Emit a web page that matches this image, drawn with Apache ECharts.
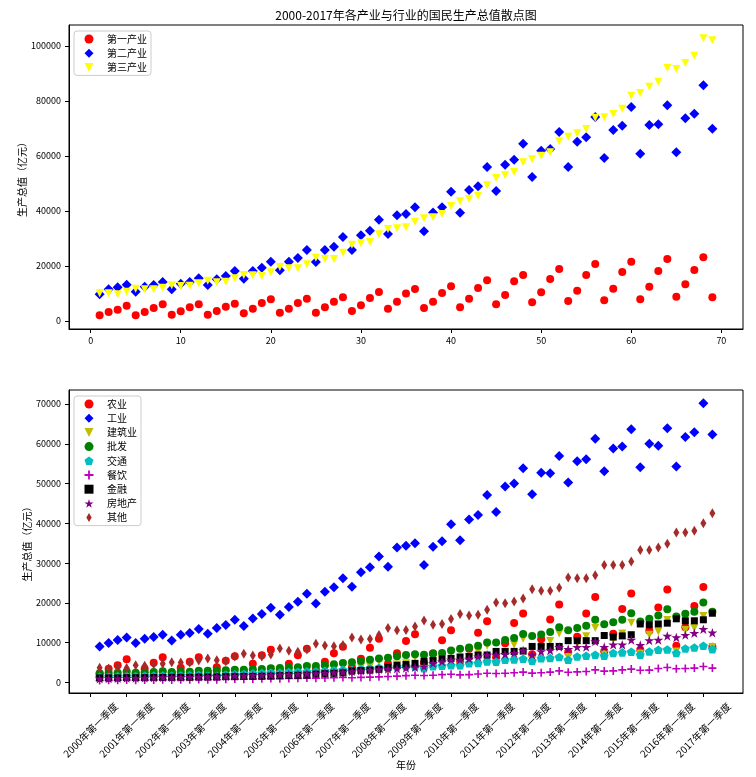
<!DOCTYPE html>
<html>
<head>
<meta charset="utf-8">
<script src="https://cdn.jsdelivr.net/npm/echarts@6/dist/echarts.min.js"></script>
<style>html,body{margin:0;padding:0;background:#fff;}#c{width:756px;height:777px;}</style>
</head>
<body>
<div id="c"></div>
<script>
// ---- data (亿元), quarters 2000Q1 .. 2017Q1, serial no. 1..69 ----
var primary = [2060,3270,4120,5580, 2060,3270,4730,6060, 2300,3520,4970,6060, 2300,3640,5210,6300, 2790,4480,6550,7880, 3030,4480,6550,8120, 3030,4970,7030,8610, 3640,5700,8360,10550, 4480,7030,10000,11640, 4730,7030,10180,12600, 4970,8120,12000,14790, 6060,9450,14420,16730, 6790,10420,15270,18910, 7270,11030,16730,20730, 7520,11760,17820,21580, 7880,12480,18180,22550, 8850,13330,18550,23150, 8610];
var secondary = [9700,11520,12240,13210, 10670,12480,13090,14180, 11520,13580,14180,15520, 13090,15150,16360,18180, 15390,18180,19390,21580, 18420,21580,22910,25820, 21450,25820,27030,30550, 25820,31150,32850,36850, 31640,38420,38910,41330, 32600,39500,41330,47030, 39390,47640,48970,56000, 47270,56850,58670,64480, 52360,61940,62550,68730, 56000,65210,66790,74180, 59270,69450,71030,77820, 60850,71270,71520,78420, 61330,73700,75390,85700, 69940];
var tertiary = [10060,10060,9700,10670, 11760,11520,11520,12120, 12970,12730,12850,13700, 14670,14060,14300,15520, 16730,16610,16360,17700, 19640,19150,19150,20610, 23030,22550,22550,24850, 27760,28240,28730,31520, 33450,33700,34120,36120, 37330,37700,38900,41820, 43520,44360,45580,49330, 52000,52970,54180,57700, 58790,60120,61330,65330, 67030,68240,69820,73940, 74060,75270,77210,81940, 82910,85210,87030,92000, 91640,93820,96480,102790, 102060];

var agriculture = [2180,3430,4310,5830, 2180,3430,4950,6320, 2430,3690,5190,6320, 2430,3820,5440,6570, 2940,4690,6830,8200, 3190,4690,6830,8450, 3190,5190,7330,8960, 3820,5950,8700,10970, 4690,7330,10400,12100, 4950,7330,10590,13090, 5190,8450,12470,15360, 6320,9830,14970,17360, 7080,10830,15850,19620, 7570,11470,17360,21500, 7830,12220,18490,22380, 8210,12970,18870,23390, 9210,13850,19250,24010, 8960];
var industry = [9050,9890,10650,11320, 9890,10980,11400,11980, 10560,11980,12400,13410, 12230,13660,14410,15750, 14160,16090,17180,18770, 17010,18940,20280,22290, 19860,22790,23960,26220, 24050,27730,28980,31660, 29070,33930,34350,35020, 29560,34090,35520,39790, 35770,40960,42130,47160, 42880,49250,50000,53850, 47320,52760,52600,56950, 50250,55610,56110,61300, 53100,58800,59300,63700, 54100,60000,59550,63900, 54270,61730,62900,70180, 62320];
var construction = [900,1400,1450,1850, 1000,1550,1600,2050, 1100,1700,1800,2300, 1250,2000,2100,2700, 1450,2350,2450,3200, 1700,2700,2850,3700, 2000,3200,3400,4400, 2400,3800,4000,5300, 2900,4500,4800,6300, 3300,5200,6200,7600, 4000,6300,7800,9200, 4900,7600,9500,11000, 5600,8600,10400,12300, 6400,9800,11600,13700, 7100,10800,12300,15000, 7300,12000,12800,15700, 7800,13200,13700,16700, 8900];
var wholesale = [2300,2350,2450,2750, 2450,2550,2600,2800, 2650,2700,2700,2950, 2950,3000,3050,3200, 3200,3300,3350,3550, 3600,3700,3800,4100, 4100,4300,4600,4900, 5100,5400,5700,6000, 6200,6600,6900,7100, 6950,7200,7380,8050, 8460,8800,9200,10050, 10050,10700,11150,12200, 11700,12060,12650,13900, 13100,13660,14250,15750, 14660,15160,15750,17400, 15330,16000,16800,18400, 16600,17250,17800,20100, 17800];
var transport = [1400,1500,1550,1600, 1550,1650,1700,1750, 1650,1750,1800,1850, 1750,1700,1950,2050, 2100,2250,2350,2450, 2400,2600,2650,2750, 2750,2950,3050,3200, 3200,3400,3550,3700, 3700,4000,4100,4000, 3600,4100,4200,4300, 4300,4860,4900,5300, 5200,5700,5750,5950, 5450,6100,6150,6370, 5700,6540,6700,6960, 6700,7380,7550,7700, 6960,7800,8200,8300, 7400,8550,8800,9200, 8380];
var catering = [500,520,560,600, 560,590,620,660, 620,660,700,740, 690,680,790,830, 810,860,910,960, 920,980,1030,1090, 1040,1100,1160,1230, 1190,1260,1330,1400, 1500,1580,1700,1800, 1750,1800,1950,2050, 1900,1950,2100,2300, 2250,2300,2450,2600, 2350,2450,2600,2900, 2550,2650,2750,3150, 2850,2900,3150,3350, 3050,3100,3500,3750, 3450,3500,3600,4000, 3600];
var finance = [1150,1150,1150,1200, 1200,1200,1250,1250, 1300,1300,1300,1350, 1400,1400,1450,1450, 1500,1500,1550,1600, 1700,1750,1800,1850, 2100,2200,2300,2400, 2900,3000,3100,3300, 3800,4300,4500,4800, 5300,5500,5900,6050, 6400,6550,6900,6900, 7800,7800,7800,7900, 9050,9050,9050,9050, 10500,10500,10500,10500, 11800,11400,11700,12000, 14700,14500,14700,14900, 16000,15500,15500,15750, 17400];
var realEstate = [950,1000,1050,1100, 1100,1150,1200,1250, 1250,1300,1350,1400, 1450,1500,1550,1650, 1700,1750,1800,1900, 1950,2000,2100,2200, 2300,2400,2500,2650, 2800,2950,3100,3300, 3400,3450,3600,3800, 4000,4850,5250,5700, 5700,5950,6500,6950, 6950,7100,7400,8050, 6950,7800,8050,8900, 8400,8900,8900,10300, 8900,9500,9500,10700, 9400,10550,10700,11700, 11300,11900,12400,13400, 12500];
var others = [3700,3500,3900,3600, 4300,4200,4600,4700, 5100,5000,5000,5500, 6000,5600,5300,6500, 7200,6800,6500,7000, 8500,7960,7700,8300, 9700,9300,9100,9400, 11300,10800,10900,11900, 13700,13100,13200,14080, 15580,14500,14670,15920, 17180,16840,17010,18270, 20110,19940,20360,21110, 23460,23040,23040,23790, 26390,26220,26220,26980, 29560,29560,29560,30400, 33330,33330,33920,34850, 37700,37700,38120,40050, 42550];

var topXTicks = [0,10,20,30,40,50,60,70];
var topYTicks = [0,20000,40000,60000,80000,100000];
var botYTicks = [0,10000,20000,30000,40000,50000,60000,70000];
var botXTicks = [0,4,8,12,16,20,24,28,32,36,40,44,48,52,56,60,64,68];
var botXLabels = ['2000年第一季度','2001年第一季度','2002年第一季度','2003年第一季度','2004年第一季度','2005年第一季度','2006年第一季度','2007年第一季度','2008年第一季度','2009年第一季度','2010年第一季度','2011年第一季度','2012年第一季度','2013年第一季度','2014年第一季度','2015年第一季度','2016年第一季度','2017年第一季度'];

var topNames = ['第一产业','第二产业','第三产业'];
var botNames = ['农业','工业','建筑业','批发','交通','餐饮','金融','房地产','其他'];

// ---- styling ----
var FONT = '"Noto Sans CJK SC", "Noto Sans", sans-serif';
var SYM = {
  circle: 'circle',
  diamond: 'diamond',
  triDown: 'path://M-1,-1L1,-1L0,1Z',
  pentagon: 'path://M0,-1L0.951,-0.309L0.588,0.809L-0.588,0.809L-0.951,-0.309Z',
  plus: 'path://M-1,-0.2L-0.2,-0.2L-0.2,-1L0.2,-1L0.2,-0.2L1,-0.2L1,0.2L0.2,0.2L0.2,1L-0.2,1L-0.2,0.2L-1,0.2Z',
  square: 'rect',
  star: 'path://M0,-1L0.2245,-0.309L0.951,-0.309L0.3633,0.118L0.588,0.809L0,0.382L-0.588,0.809L-0.3633,0.118L-0.951,-0.309L-0.2245,-0.309Z',
  thinDiamond: 'path://M0,-1L0.6,0L0,1L-0.6,0Z'
};
var topStyle = [
  {color:'#ff0000', symbol:SYM.circle, size:8},
  {color:'#0000ff', symbol:SYM.diamond, size:10},
  {color:'#ffff00', symbol:SYM.triDown, size:8}
];
var botStyle = [
  {color:'#ff0000', symbol:SYM.circle, size:8},
  {color:'#0000ff', symbol:SYM.diamond, size:10},
  {color:'#bfbf00', symbol:SYM.triDown, size:8},
  {color:'#008000', symbol:SYM.circle, size:8},
  {color:'#00bfbf', symbol:SYM.pentagon, size:9},
  {color:'#bf00bf', symbol:SYM.plus, size:8},
  {color:'#000000', symbol:SYM.square, size:7},
  {color:'#800080', symbol:SYM.star, size:10},
  {color:'#a52a2a', symbol:SYM.thinDiamond, size:10}
];
var topData = [primary, secondary, tertiary];
var botData = [agriculture, industry, construction, wholesale, transport, catering, finance, realEstate, others];

function pts(vals) { return vals.map(function (v, i) { return [i + 1, v]; }); }

var series = [];
topData.forEach(function (vals, k) {
  var s = topStyle[k];
  series.push({type:'scatter', name:topNames[k], xAxisIndex:0, yAxisIndex:0, data:pts(vals),
    symbol:s.symbol, symbolSize:s.size, symbolKeepAspect:true, itemStyle:{color:s.color, opacity:1}});
});
botData.forEach(function (vals, k) {
  var s = botStyle[k];
  series.push({type:'scatter', name:botNames[k], xAxisIndex:1, yAxisIndex:1, data:pts(vals),
    symbol:s.symbol, symbolSize:s.size, symbolKeepAspect:true, itemStyle:{color:s.color, opacity:1}});
});

function legendData(names, styles) {
  return names.map(function (n, k) { return {name:n, icon:styles[k].symbol}; });
}
var legendCommon = {
  orient:'vertical', left:74, itemWidth:9, itemHeight:9, itemGap:4.2,
  padding:[3,4,3,10.5], borderColor:'#cccccc', borderWidth:1, borderRadius:3,
  backgroundColor:'rgba(255,255,255,0.8)', selectedMode:false,
  textStyle:{fontSize:10, color:'#000', fontFamily:FONT, padding:[0,0,0,8.5]}
};
function mergeObj(a, b) { var o = {}; for (var k in a) o[k] = a[k]; for (var k2 in b) o[k2] = b[k2]; return o; }

var tickStyle = {show:true, length:4, lineStyle:{color:'#000', width:1}};
var lblStyle = {fontSize:9, color:'#000', fontFamily:FONT};
function plain(v) { return String(v); }

var option = {
  animation:false,
  backgroundColor:'#ffffff',
  textStyle:{fontFamily:FONT},
  title:{text:'2000-2017年各产业与行业的国民生产总值散点图', left:406, top:9, textAlign:'center', padding:0,
    textStyle:{fontSize:12, fontWeight:'normal', color:'#000', fontFamily:FONT}},
  grid:[
    {left:69, right:13, top:25, height:304, show:true, borderColor:'#000', borderWidth:1, backgroundColor:'transparent'},
    {left:69, right:13, top:390, height:303, show:true, borderColor:'#000', borderWidth:1, backgroundColor:'transparent'}
  ],
  xAxis:[
    {type:'value', gridIndex:0, min:-2.4, max:72.4, splitLine:{show:false},
     axisLine:{show:true, onZero:false, lineStyle:{color:'#000', width:1}},
     axisTick:mergeObj(tickStyle, {customValues:topXTicks}),
     axisLabel:mergeObj(lblStyle, {customValues:topXTicks, margin:7, formatter:plain})},
    {type:'value', gridIndex:1, min:-2.4, max:72.4, splitLine:{show:false},
     name:'年份', nameLocation:'middle', nameGap:67, nameMoveOverlap:false, nameTextStyle:{fontSize:10, color:'#000', fontFamily:FONT},
     axisLine:{show:true, onZero:false, lineStyle:{color:'#000', width:1}},
     axisTick:mergeObj(tickStyle, {customValues:botXTicks}),
     axisLabel:mergeObj(lblStyle, {customValues:botXTicks, rotate:45, align:'center', verticalAlign:'middle', margin:37, fontSize:10,
       formatter:function (v) { var i = botXTicks.indexOf(v); return i >= 0 ? botXLabels[i] : ''; }})}
  ],
  yAxis:[
    {type:'value', gridIndex:0, min:-2900, max:107640, splitLine:{show:false},
     name:'生产总值（亿元）', nameLocation:'middle', nameGap:42, nameMoveOverlap:false, nameTextStyle:{fontSize:10, color:'#000', fontFamily:FONT},
     axisLine:{show:true, onZero:false, lineStyle:{color:'#000', width:1}},
     axisTick:mergeObj(tickStyle, {customValues:topYTicks}),
     axisLabel:mergeObj(lblStyle, {customValues:topYTicks, margin:8, formatter:plain})},
    {type:'value', gridIndex:1, min:-2660, max:73540, splitLine:{show:false},
     name:'生产总值（亿元）', nameLocation:'middle', nameGap:37, nameMoveOverlap:false, nameTextStyle:{fontSize:10, color:'#000', fontFamily:FONT},
     axisLine:{show:true, onZero:false, lineStyle:{color:'#000', width:1}},
     axisTick:mergeObj(tickStyle, {customValues:botYTicks}),
     axisLabel:mergeObj(lblStyle, {customValues:botYTicks, margin:8, formatter:plain})}
  ],
  legend:[
    mergeObj(legendCommon, {top:31, data:legendData(topNames, topStyle)}),
    mergeObj(legendCommon, {top:396, data:legendData(botNames, botStyle)})
  ],
  series:series
};

var chart = echarts.init(document.getElementById('c'), null, {renderer:'canvas'});
chart.setOption(option);
</script>
</body>
</html>
